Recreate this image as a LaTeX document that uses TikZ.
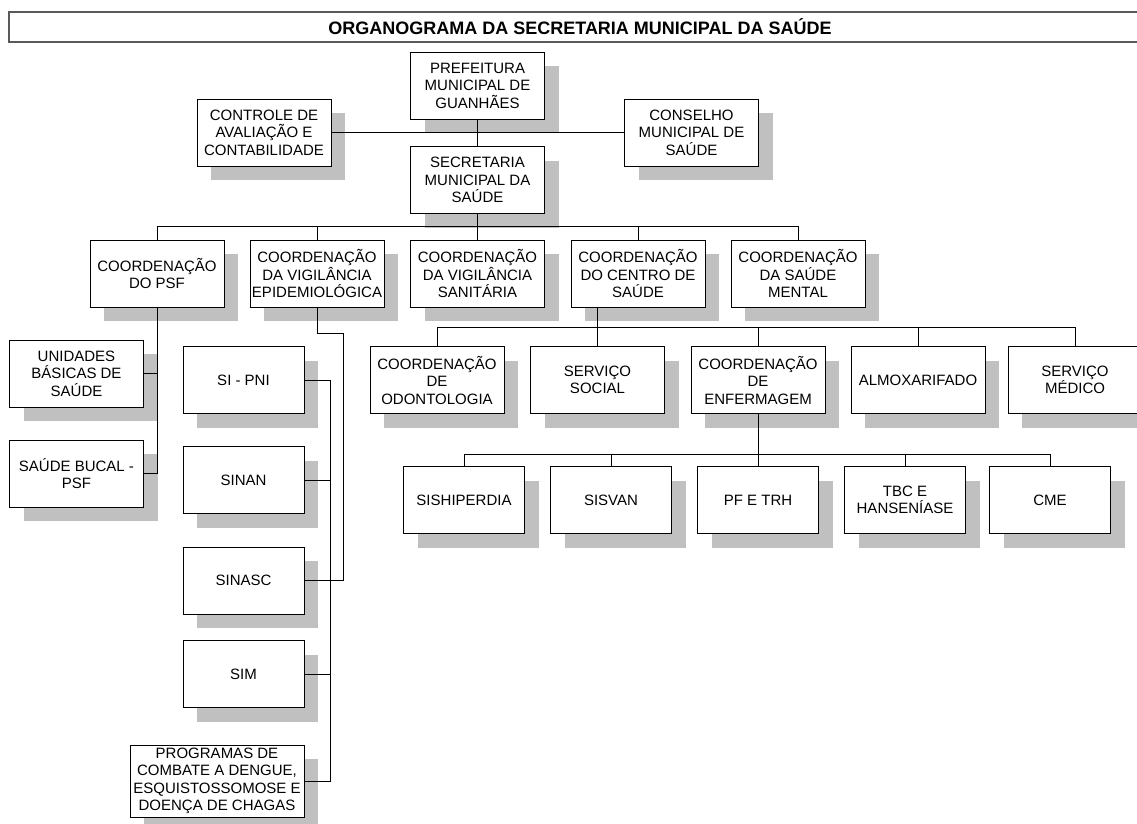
\documentclass[tikz,border=0pt]{standalone}
\usepackage{fontspec}
\setmainfont{Liberation Sans}
\usetikzlibrary{shadows}
\definecolor{shadegray}{RGB}{192,192,192}
\begin{document}
\begin{tikzpicture}[x=1pt,y=-1pt,
    box/.style={draw,line width=1pt,fill=white,align=center,inner sep=1pt,
      font=\fontsize{15}{17.5}\selectfont,minimum width=134pt,minimum height=67pt,
      drop shadow={shadow xshift=14pt,shadow yshift=-14pt,fill=shadegray,opacity=1}},
    sbox/.style={box,minimum width=121pt},
    titlebox/.style={draw=black!65,line width=1.3pt,minimum width=1142pt,minimum height=30pt,
      font=\bfseries\fontsize{18}{20}\selectfont},
    link/.style={line width=1pt}]
    \useasboundingbox (0,0) rectangle (1137,823);
    \node[titlebox] (title) at (580,27) {ORGANOGRAMA DA SECRETARIA MUNICIPAL DA SAÚDE};
    \node[box] (pref) at (477.5,85.5) {PREFEITURA\\MUNICIPAL DE\\GUANHÃES};
    \node[box] (ctrl) at (264,132.5) {CONTROLE DE\\AVALIAÇÃO E\\CONTABILIDADE};
    \node[box] (cons) at (691.5,132.5) {CONSELHO\\MUNICIPAL DE\\SAÚDE};
    \node[box] (sec) at (477.5,180) {SECRETARIA\\MUNICIPAL DA\\SAÚDE};
    % coordenacoes
    \node[box] (psf) at (157,273.5) {COORDENAÇÃO\\DO PSF};
    \node[box] (epi) at (317,273.5) {COORDENAÇÃO\\DA VIGILÂNCIA\\EPIDEMIOLÓGICA};
    \node[box] (san) at (477.5,273.5) {COORDENAÇÃO\\DA VIGILÂNCIA\\SANITÁRIA};
    \node[box] (cen) at (638,273.5) {COORDENAÇÃO\\DO CENTRO DE\\SAÚDE};
    \node[box] (men) at (798,273.5) {COORDENAÇÃO\\DA SAÚDE\\MENTAL};
    % psf
    \node[box] (ubs) at (76.5,373.5) {UNIDADES\\BÁSICAS DE\\SAÚDE};
    \node[box] (bucal) at (76.5,473.5) {SAÚDE BUCAL -\\PSF};
    % vigilancia epidemiologica
    \node[sbox] (pni) at (243.5,380) {SI - PNI};
    \node[sbox] (sinan) at (243.5,480) {SINAN};
    \node[sbox] (sinasc) at (243.5,580.5) {SINASC};
    \node[sbox] (sim) at (243.5,674) {SIM};
    \node[box,minimum width=174pt,minimum height=72pt] (prog) at (217,781)
      {PROGRAMAS DE\\COMBATE A DENGUE,\\ESQUISTOSSOMOSE E\\DOENÇA DE CHAGAS};
    % centro de saude
    \node[box] (odo) at (437,380) {COORDENAÇÃO\\DE\\ODONTOLOGIA};
    \node[box] (soc) at (597.5,380) {SERVIÇO\\SOCIAL};
    \node[box] (enf) at (758,380) {COORDENAÇÃO\\DE\\ENFERMAGEM};
    \node[box] (alm) at (918,380) {ALMOXARIFADO};
    \node[box] (med) at (1075,380) {SERVIÇO\\MÉDICO};
    % enfermagem
    \node[sbox] (sis) at (464,500) {SISHIPERDIA};
    \node[sbox] (sisv) at (611,500) {SISVAN};
    \node[sbox] (pf) at (758,500) {PF E TRH};
    \node[sbox] (tbc) at (905,500) {TBC E\\HANSENÍASE};
    \node[sbox] (cme) at (1050,500) {CME};

    \coordinate (bus1) at (0,226);
    \coordinate (bus2) at (0,327);
    \coordinate (bus3) at (0,454);
    \coordinate (epiturn) at (343,333);
    \coordinate (sibus) at (330,0);

    \draw[link] (ctrl.east) -- (cons.west);
    \draw[link] (pref.south) -- (sec.north);
    \draw[link] (sec.south) -- (sec.south |- bus1);
    \draw[link] (psf.north) -- (psf.north |- bus1) -- (men.north |- bus1) -- (men.north);
    \foreach \n in {epi,san,cen}
        \draw[link] (\n.north) -- (\n.north |- bus1);
    \draw[link] (psf.south) -- (psf.south |- bucal.east) -- (bucal.east);
    \draw[link] (ubs.east) -- (ubs.east -| psf.south);
    \draw[link] (epi.south) |- (epiturn) |- (sinasc.east);
    \draw[link] (pni.east) -- (pni.east -| sibus) -- (prog.east -| sibus) -- (prog.east);
    \foreach \n in {sinan,sinasc,sim}
        \draw[link] (\n.east) -- (\n.east -| sibus);
    \draw[link] (soc.north |- cen.south) -- (soc.north |- bus2);
    \draw[link] (odo.north) -- (odo.north |- bus2) -- (med.north |- bus2) -- (med.north);
    \foreach \n in {soc,enf,alm}
        \draw[link] (\n.north) -- (\n.north |- bus2);
    \draw[link] (enf.south) -- (pf.north);
    \draw[link] (sis.north) -- (sis.north |- bus3) -- (cme.north |- bus3) -- (cme.north);
    \foreach \n in {sisv,tbc}
        \draw[link] (\n.north) -- (\n.north |- bus3);
\end{tikzpicture}
\end{document}
